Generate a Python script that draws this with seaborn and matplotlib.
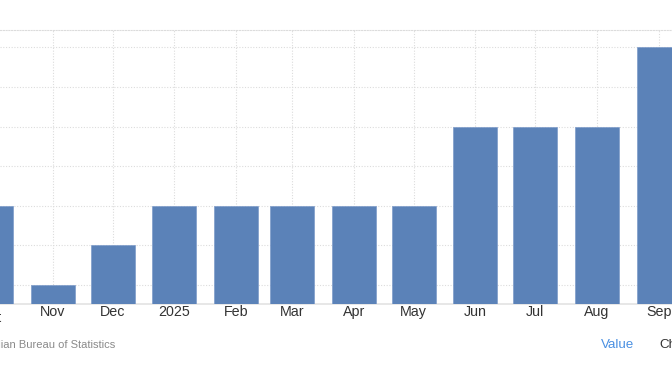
import matplotlib
matplotlib.use("Agg")
import matplotlib.pyplot as plt
import matplotlib.dates as mdates
import matplotlib.transforms as mtransforms
import seaborn as sns
import pandas as pd
import numpy as np

months = ["2024-10-01", "2024-11-01", "2024-12-01", "2025-01-01", "2025-02-01",
          "2025-03-01", "2025-04-01", "2025-05-01", "2025-06-01", "2025-07-01",
          "2025-08-01", "2025-09-01"]
tick_labels = ["Oct", "Nov", "Dec", "2025", "Feb", "Mar", "Apr", "May", "Jun",
               "Jul", "Aug", "Sep"]
values = [4.1, 3.9, 4.0, 4.1, 4.1, 4.1, 4.1, 4.1, 4.3, 4.3, 4.3, 4.5]
grid_levels = [3.9, 4.0, 4.1, 4.2, 4.3, 4.4, 4.5]

sns.set_theme(style="white")
plt.rcParams['font.family'] = ['Liberation Sans', 'DejaVu Sans']

xnum = mdates.date2num(pd.to_datetime(months))
df = pd.DataFrame({"x": xnum, "v": values})

W, H = 672, 372
fig = plt.figure(figsize=(W / 100, H / 100), dpi=100)
ax_bottom_px, ax_top_px = 304, 30
ax = fig.add_axes([0, (H - ax_bottom_px) / H, 1, (ax_bottom_px - ax_top_px) / H])

sns.barplot(data=df, x="x", y="v", native_scale=True, width=22.07 / 28,
            color="#5b82b8", saturation=1, edgecolor="#7d9bc9", linewidth=0.5,
            ax=ax, zorder=3)

ax.set_yticks(grid_levels)
ax.set_yticklabels([])
ax.set_xticks(xnum)
ax.set_xticklabels(tick_labels)

px_per_day = 1.994
left = xnum[1] - 52.7 / px_per_day
ax.set_xlim(left, left + W / px_per_day)
ax.set_ylim(3.852, 4.544)

ax.tick_params(axis="x", length=0, pad=1, labelsize=10.3, labelcolor="#333333")
ax.tick_params(axis="y", length=0)
ax.grid(True, axis="both", linestyle=(0, (1, 1.5)), color="#dcdcdc", linewidth=0.8, zorder=0)
ax.set_axisbelow(True)
ax.set_xlabel("")
ax.set_ylabel("")

# label of the first (partly cropped) month, whose tick lies left of the view
trans = mtransforms.blended_transform_factory(ax.transData, ax.transAxes)
ax.text(xnum[0], -0.0255, tick_labels[0], transform=trans, ha="center", va="top",
        fontsize=10.3, color="#333333", clip_on=False)

for s in ["left", "right"]:
    ax.spines[s].set_visible(False)
ax.spines["bottom"].set_color("#e3e3e3")
ax.spines["bottom"].set_linewidth(1.2)
ax.spines["top"].set_color("#dcdcdc")
ax.spines["top"].set_linestyle((0, (1, 1.5)))
ax.spines["top"].set_linewidth(0.8)

fig.text(115 / W, 1 - 345 / H, "Source: Australian Bureau of Statistics", ha="right",
         va="center", fontsize=8, color="#8a8a8a")
fig.text(601 / W, 1 - 345 / H, "Value", ha="left", va="center", fontsize=9.6,
         color="#4a90e2")
fig.text(659 / W, 1 - 345 / H, "Chart", ha="left", va="center", fontsize=9.6,
         color="#333333")

fig.savefig("out.png", dpi=100)
